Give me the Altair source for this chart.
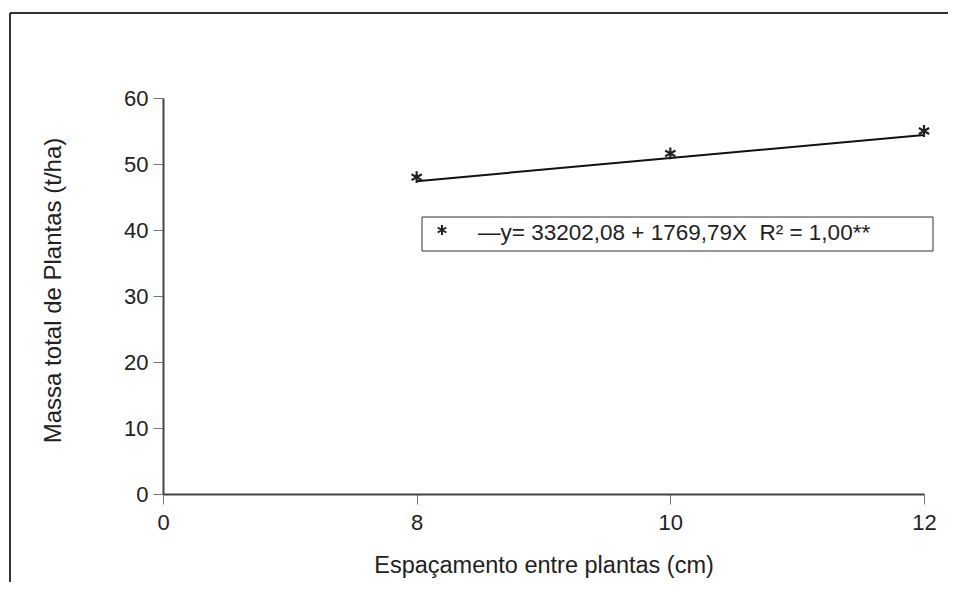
import altair as alt
import pandas as pd

# ---- data ----
x_labels = ["0", "8", "10", "12"]
x_obs = [8, 10, 12]
y_obs = [48.0, 51.6, 55.0]
y_fit = [47.4, 50.9, 54.4]
y_ticks = [0, 10, 20, 30, 40, 50, 60]
legend_text = "\u2014y= 33202,08 + 1769,79X \u00a0R\u00b2 = 1,00**"
x_title = "Espaçamento entre plantas (cm)"
y_title = "Massa total de Plantas (t/ha)"

FONT = "Liberation Sans"
STAR = "M0,-1L0,1M-0.87,-0.5L0.87,0.5M-0.87,0.5L0.87,-0.5"
pos = [x_labels.index(str(v)) for v in x_obs]
df = pd.DataFrame({"pos": pos, "obs": y_obs, "fit": y_fit})
one = pd.DataFrame({"k": [0]})

label_expr = "[" + ",".join(f"'{l}'" for l in x_labels) + "][datum.value]"

x_enc = alt.X(
    "pos:Q",
    scale=alt.Scale(domain=[0, len(x_labels) - 1], nice=False, zero=False),
    axis=alt.Axis(
        values=list(range(len(x_labels))), labelExpr=label_expr, title=x_title,
        domainColor="#444", domainWidth=2, tickColor="#777", tickSize=10, tickWidth=1,
        labelPadding=8, labelFontSize=22, labelColor="#222", labelFont=FONT,
        labelFlush=False, labelOverlap=False,
        titleFontSize=23.5, titleFont=FONT, titleColor="#222", titleFontWeight="normal",
        titlePadding=20, grid=False,
    ),
)
y_enc = alt.Y(
    "fit:Q",
    scale=alt.Scale(domain=[0, 60], nice=False),
    axis=alt.Axis(
        values=y_ticks, title=y_title,
        domainColor="#444", domainWidth=2, tickColor="#777", tickSize=10, tickWidth=1,
        labelPadding=5, labelFontSize=22, labelColor="#222", labelFont=FONT,
        labelFlush=False, labelOverlap=False,
        titleFontSize=24, titleFont=FONT, titleColor="#222", titleFontWeight="normal",
        titlePadding=58, titleY=192, grid=False,
    ),
)

line = alt.Chart(df).mark_line(color="#111", strokeWidth=2).encode(x=x_enc, y=y_enc)

stars = alt.Chart(df).mark_point(
    shape=STAR, size=140, filled=False, stroke="#222", strokeWidth=2.2, opacity=1
).encode(x=alt.X("pos:Q"), y=alt.Y("obs:Q"))

frame_top = alt.Chart(one).mark_rule(color="#333", strokeWidth=2).encode(
    x=alt.value(-153), x2=alt.value(820), y=alt.value(-85)
)
frame_left = alt.Chart(one).mark_rule(color="#333", strokeWidth=2).encode(
    x=alt.value(-153), y=alt.value(-85), y2=alt.value(520)
)

legend_box = alt.Chart(one).mark_rect(fill="white", stroke="#333", strokeWidth=1).encode(
    x=alt.value(259), x2=alt.value(770), y=alt.value(119), y2=alt.value(153)
)
legend_star = alt.Chart(one).mark_point(
    shape=STAR, size=100, filled=False, stroke="#222", strokeWidth=2, opacity=1
).encode(x=alt.value(279), y=alt.value(132))
legend_label = alt.Chart(one).mark_text(
    text=legend_text, font=FONT, fontSize=22.5, color="#222", align="left", baseline="alphabetic"
).encode(x=alt.value(315), y=alt.value(142))

chart = alt.layer(
    frame_top, frame_left, line, stars, legend_box, legend_star, legend_label
).properties(
    width=761, height=396,
    background="white",
    autosize=alt.AutoSizeParams(type="none"),
    padding={"left": 155, "top": 90, "right": 24, "bottom": 88},
).configure_view(stroke=None)

chart.save("out.html", embed_options={"renderer": "svg", "actions": False})
